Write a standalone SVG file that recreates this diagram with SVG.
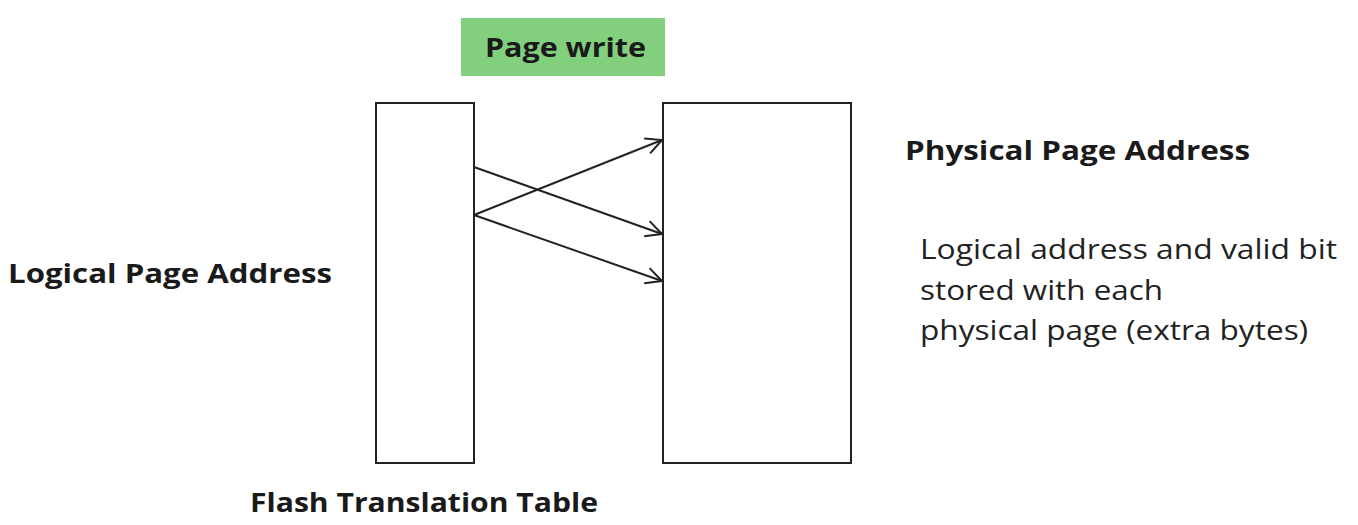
<svg xmlns="http://www.w3.org/2000/svg" width="1358" height="525" viewBox="0 0 1358 525">
<defs>
<style>
.b{font-family:"Open Sans","Liberation Sans",sans-serif;font-weight:bold;font-size:27px;fill:#1a1a1a}
.r{font-family:"Open Sans","Liberation Sans",sans-serif;font-size:27px;fill:#222}
.box{fill:#fff;stroke:#222;stroke-width:2}
.c{stroke:#222;stroke-width:2;fill:none;marker-end:url(#ah)}
</style>
<marker id="ah" viewBox="0 0 20 20" refX="18" refY="10" markerWidth="20" markerHeight="20" markerUnits="userSpaceOnUse" orient="auto">
<path d="M2,2 L18,10 L2,18" fill="none" stroke="#222" stroke-width="2"/>
</marker>
</defs>
<rect width="1358" height="525" fill="#fff"/>
<g id="page-write">
<rect x="461" y="18" width="204" height="58" fill="#82d07e"/>
<text class="b" x="485" y="57" textLength="161" lengthAdjust="spacingAndGlyphs">Page write</text>
</g>
<g id="ftt">
<rect class="box" x="376" y="103" width="98" height="360"/>
<text class="b" x="250" y="512" textLength="348" lengthAdjust="spacingAndGlyphs">Flash Translation Table</text>
</g>
<g id="physical">
<rect class="box" x="663" y="103" width="188" height="360"/>
</g>
<g id="labels">
<text class="b" x="8" y="283" textLength="324" lengthAdjust="spacingAndGlyphs">Logical Page Address</text>
<text class="b" x="905" y="160" textLength="345" lengthAdjust="spacingAndGlyphs">Physical Page Address</text>
<text class="r" x="920" y="259" textLength="417" lengthAdjust="spacingAndGlyphs">Logical address and valid bit</text>
<text class="r" x="920" y="300" textLength="243" lengthAdjust="spacingAndGlyphs">stored with each</text>
<text class="r" x="920" y="340" textLength="388" lengthAdjust="spacingAndGlyphs">physical page (extra bytes)</text>
</g>
<g id="connectors">
<line class="c" x1="474" y1="167" x2="662" y2="234"/>
<line class="c" x1="474" y1="215" x2="662" y2="140"/>
<line class="c" x1="474" y1="215" x2="662" y2="281"/>
</g>
</svg>
